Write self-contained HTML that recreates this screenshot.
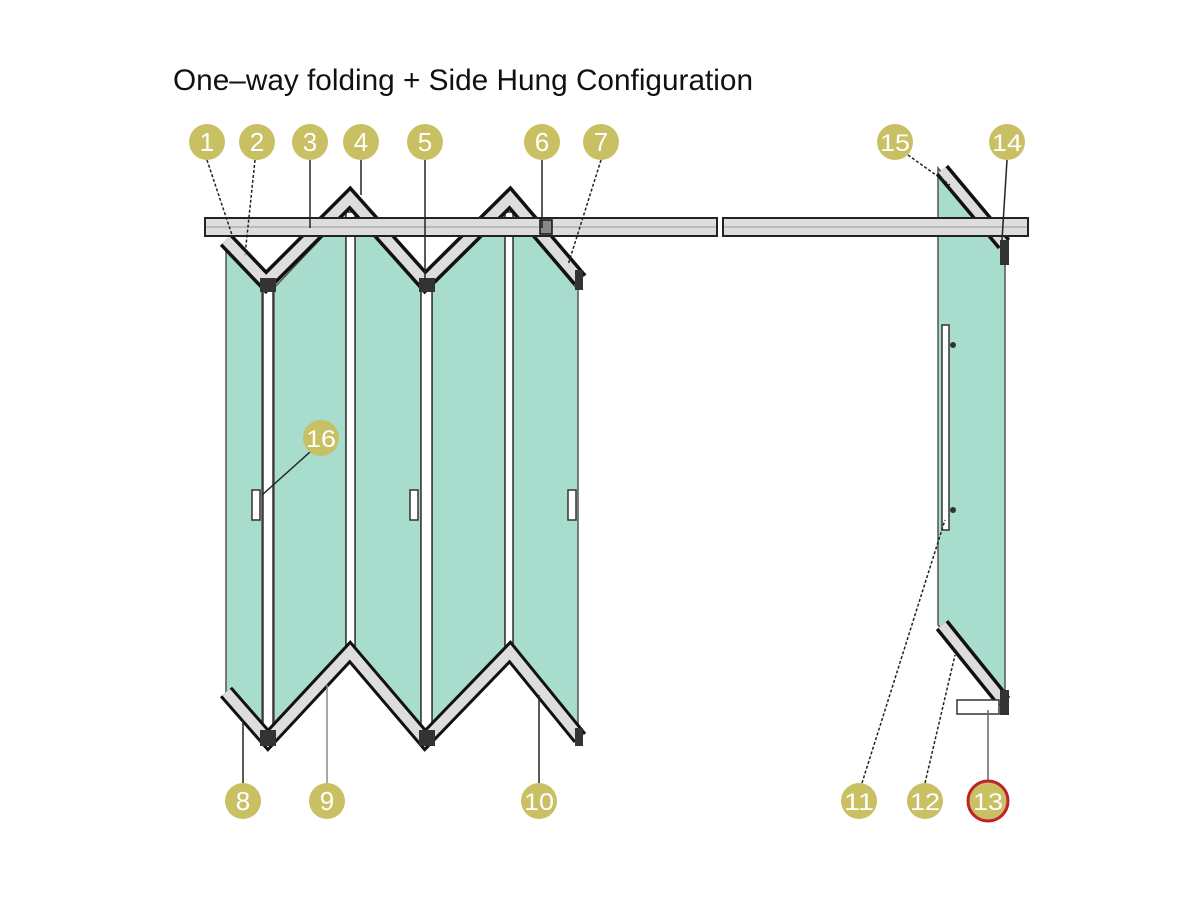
<!DOCTYPE html>
<html><head><meta charset="utf-8"><style>html,body{margin:0;padding:0;background:#fff}svg{display:block}</style></head>
<body>
<svg width="1200" height="900" viewBox="0 0 1200 900" xmlns="http://www.w3.org/2000/svg" font-family="Liberation Sans, sans-serif">
<rect width="1200" height="900" fill="#fff"/>
<text x="173" y="90" font-size="30" textLength="580" lengthAdjust="spacingAndGlyphs" fill="#111">One–way folding + Side Hung Configuration</text>

<g fill="#a8dccd" stroke="#555" stroke-width="1.5">
<polygon points="226,250 262,288 262,735 226,700"/>
<polygon points="274,288 346,212 346,655 274,735"/>
<polygon points="355,212 421,285 421,735 355,658"/>
<polygon points="432,285 505,212 505,658 432,735"/>
<polygon points="513,212 578,290 578,740 513,660"/>
<polygon points="938,168 1005,245 1005,700 938,625"/>
</g>
<g fill="#fff" stroke="#333" stroke-width="1.5">
<rect x="263" y="285" width="10" height="450"/>
<rect x="346" y="212" width="9" height="445"/>
<rect x="421" y="285" width="11" height="450"/>
<rect x="505" y="212" width="8" height="445"/>
</g>

<g fill="none" stroke-linejoin="miter">
<polyline points="226,240 266,282 350,198 425,282 510,198 580,280" stroke="#111" stroke-width="17"/>
<polyline points="226,240 266,282 350,198 425,282 510,198 580,280" stroke="#ddd" stroke-width="10"/>
<polyline points="226,692 268,740 350,652 425,740 510,652 580,738" stroke="#111" stroke-width="16"/>
<polyline points="226,692 268,740 350,652 425,740 510,652 580,738" stroke="#ddd" stroke-width="10"/>
<line x1="942" y1="170" x2="1004" y2="244" stroke="#111" stroke-width="16"/>
<line x1="942" y1="170" x2="1004" y2="244" stroke="#ddd" stroke-width="9"/>
<line x1="942" y1="625" x2="1004" y2="702" stroke="#111" stroke-width="16"/>
<line x1="942" y1="625" x2="1004" y2="702" stroke="#ddd" stroke-width="9"/>
</g>

<g stroke="#222" stroke-width="2" fill="#ddd">
<rect x="205" y="218" width="512" height="18"/>
<rect x="723" y="218" width="305" height="18"/>
</g>
<line x1="206" y1="227" x2="716" y2="227" stroke="#999" stroke-width="1"/>
<line x1="724" y1="227" x2="1027" y2="227" stroke="#999" stroke-width="1"/>

<rect x="540" y="220" width="12" height="14" fill="#888" stroke="#111" stroke-width="1.5"/>
<g fill="#333"><rect x="260" y="278" width="16" height="14"/><rect x="419" y="278" width="16" height="14"/>
<rect x="260" y="730" width="16" height="16"/><rect x="419" y="730" width="16" height="16"/>
<rect x="575" y="270" width="8" height="20"/><rect x="575" y="728" width="8" height="18"/>
<rect x="1000" y="240" width="9" height="25"/><rect x="1000" y="690" width="9" height="25"/></g>

<g fill="#fff" stroke="#333" stroke-width="1.5">
<rect x="252" y="490" width="8" height="30"/><rect x="410" y="490" width="8" height="30"/><rect x="568" y="490" width="8" height="30"/>
<rect x="942" y="325" width="7" height="205"/>
<rect x="957" y="700" width="42" height="14"/>
</g>
<circle cx="953" cy="345" r="3" fill="#333"/><circle cx="953" cy="510" r="3" fill="#333"/>

<g stroke="#222" stroke-width="1.5" fill="none">
<line x1="207" y1="160" x2="232" y2="235" stroke-dasharray="3,2"/>
<line x1="255" y1="160" x2="245" y2="255" stroke-dasharray="3,2"/>
<line x1="310" y1="160" x2="310" y2="228"/>
<line x1="361" y1="160" x2="361" y2="195"/>
<line x1="425" y1="160" x2="425" y2="280"/>
<line x1="542" y1="160" x2="542" y2="228"/>
<line x1="601" y1="160" x2="568" y2="265" stroke-dasharray="3,2"/>
<line x1="310" y1="452" x2="262" y2="495"/>
<line x1="243" y1="783" x2="243" y2="720"/>
<line x1="327" y1="783" x2="327" y2="685" stroke="#888"/>
<line x1="539" y1="783" x2="539" y2="695"/>
<line x1="862" y1="783" x2="945" y2="520" stroke-dasharray="3,2"/>
<line x1="925" y1="783" x2="955" y2="655" stroke-dasharray="3,2"/>
<line x1="988" y1="783" x2="988" y2="710" stroke="#666"/>
<line x1="908" y1="155" x2="950" y2="185" stroke-dasharray="3,2"/>
<line x1="1007" y1="160" x2="1002" y2="240"/>
</g>

<g fill="#c8c062">
<circle cx="207" cy="142" r="18"/><circle cx="257" cy="142" r="18"/><circle cx="310" cy="142" r="18"/>
<circle cx="361" cy="142" r="18"/><circle cx="425" cy="142" r="18"/><circle cx="542" cy="142" r="18"/>
<circle cx="601" cy="142" r="18"/><circle cx="895" cy="142" r="18"/><circle cx="1007" cy="142" r="18"/>
<circle cx="321" cy="438" r="18"/><circle cx="243" cy="801" r="18"/><circle cx="327" cy="801" r="18"/>
<circle cx="539" cy="801" r="18"/><circle cx="859" cy="801" r="18"/><circle cx="925" cy="801" r="18"/>
<circle cx="988" cy="801" r="20" stroke="#c0212a" stroke-width="3"/>
</g>
<g fill="#fff" font-size="26" text-anchor="middle">
<text x="207" y="151">1</text><text x="257" y="151">2</text><text x="310" y="151">3</text>
<text x="361" y="151">4</text><text x="425" y="151">5</text><text x="542" y="151">6</text>
<text x="601" y="151">7</text><text x="895" y="151" font-size="24" textLength="30" lengthAdjust="spacingAndGlyphs">15</text>
<text x="1007" y="151" font-size="24" textLength="30" lengthAdjust="spacingAndGlyphs">14</text>
<text x="321" y="447" font-size="24" textLength="30" lengthAdjust="spacingAndGlyphs">16</text>
<text x="243" y="810">8</text><text x="327" y="810">9</text>
<text x="539" y="810" font-size="24" textLength="30" lengthAdjust="spacingAndGlyphs">10</text>
<text x="859" y="810" font-size="24" textLength="30" lengthAdjust="spacingAndGlyphs">11</text>
<text x="925" y="810" font-size="24" textLength="30" lengthAdjust="spacingAndGlyphs">12</text>
<text x="988" y="810" font-size="24" textLength="30" lengthAdjust="spacingAndGlyphs">13</text>
</g>
</svg>
</body></html>
